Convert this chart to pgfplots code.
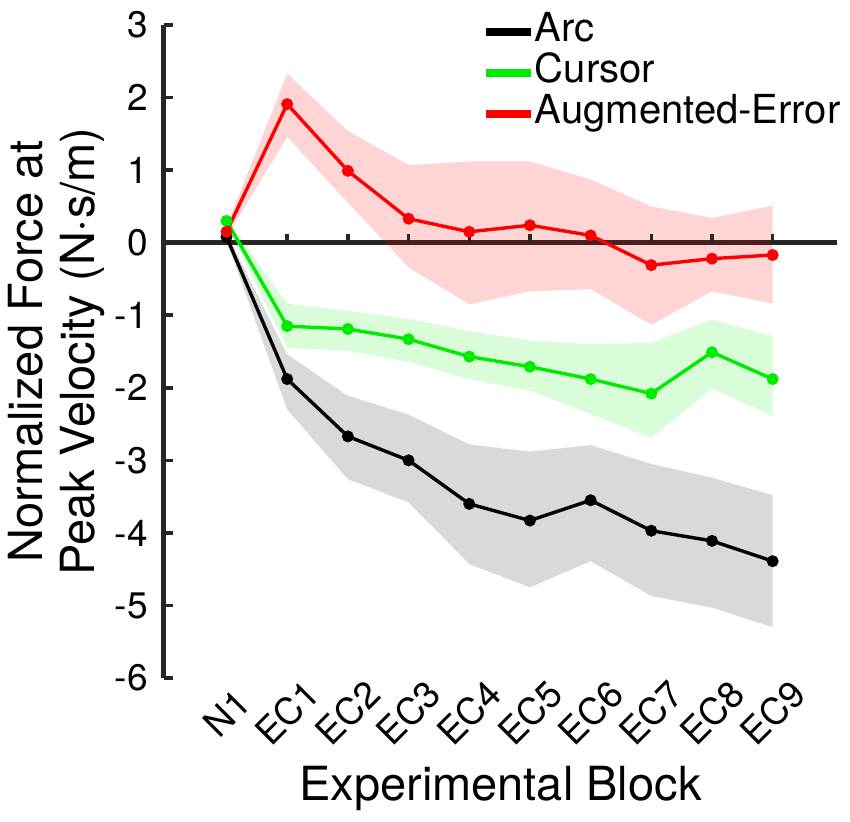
\documentclass[border=0pt]{standalone}
\usepackage{fontspec}
\setmainfont{TeX Gyre Heros}
\usepackage{pgfplots}
\pgfplotsset{compat=1.18}
\definecolor{axgray}{RGB}{38,38,38}
\definecolor{cgreen}{RGB}{0,235,0}
\definecolor{cred}{RGB}{255,0,0}
\pgfdeclareplotmark{uptick}{\pgfpathmoveto{\pgfqpoint{0pt}{0pt}}\pgfpathlineto{\pgfqpoint{0pt}{4.4pt}}\pgfusepathqstroke}
\begin{document}
\begin{tikzpicture}
\begin{axis}[
  scale only axis, width=336.5pt, height=326.5pt,
  xmin=-1.03, xmax=10.06, ymin=-6, ymax=3,
  axis y line*=left, axis x line*=bottom,
  x axis line style={draw=none},
  y axis line style={line width=2.5pt, color=axgray},
  xtick={0,...,9},
  xticklabels={N1,EC1,EC2,EC3,EC4,EC5,EC6,EC7,EC8,EC9},
  xtick style={draw=none},
  ytick={-6,...,3},
  yticklabels={-6,-5,-4,-3,-2,-1,0,1,2,3},
  ytick style={line width=1.8pt, color=axgray},
  tick align=inside, major tick length=4.4pt,
  tick label style={font=\fontsize{18.5}{18.5}\selectfont, text=black},
  yticklabel style={anchor=east, inner sep=0pt, xshift=-8pt},
  xticklabel style={yshift=-17.5pt, rotate=45, anchor=center, inner sep=0pt},
  xlabel={Experimental Block},
  xlabel style={at={(rel axis cs:0.5,0)}, anchor=base, yshift=-61pt, font=\fontsize{23.5}{26}\selectfont, inner sep=0pt},
  ylabel={Normalized Force at\\Peak Velocity (N{\char"00B7}s/m)},
  ylabel style={at={(rel axis cs:-0.0881,0.5)}, anchor=south, align=center, font=\fontsize{23.5}{26}\selectfont, inner sep=0pt},
  legend style={at={(rel axis cs:0.472,1.0173)}, anchor=north west, draw=none, fill=none, inner sep=0pt, outer sep=0pt, row sep=2.5pt, font=\fontsize{20}{20}\selectfont, nodes={inner sep=0pt, text height=14pt, text depth=4pt}},
  legend cell align=left,
  legend image code/.code={\draw[line width=4.15pt] (-2pt,0pt) -- (20.5pt,0pt);},
]
\coordinate (BL) at (rel axis cs:0,0);
\coordinate (TR) at (rel axis cs:1,1);
% zero line and its ticks
\addplot[draw=axgray, line width=2.3pt, forget plot] coordinates {(-1.03,0) (10.06,0)};
\addplot[only marks, mark=uptick, mark options={draw=axgray, line width=1.7pt}, forget plot] coordinates {(0,0) (1,0) (2,0) (3,0) (4,0) (5,0) (6,0) (7,0) (8,0) (9,0)};
% bands: upper 0..9 then lower 9..0
\addplot[fill=cred, fill opacity=0.17, draw=none, forget plot] coordinates {
 (0,0.22) (1,2.33) (2,1.54) (3,1.07) (4,1.12) (5,1.12) (6,0.87) (7,0.50) (8,0.34) (9,0.51)
 (9,-0.84) (8,-0.67) (7,-1.13) (6,-0.64) (5,-0.67) (4,-0.85) (3,-0.34) (2,0.55) (1,1.46) (0,0.08)};
\addplot[fill=cgreen, fill opacity=0.15, draw=none, forget plot] coordinates {
 (0,0.33) (1,-0.84) (2,-0.94) (3,-1.05) (4,-1.22) (5,-1.35) (6,-1.40) (7,-1.38) (8,-1.06) (9,-1.29)
 (9,-2.39) (8,-2.01) (7,-2.69) (6,-2.36) (5,-2.04) (4,-1.88) (3,-1.64) (2,-1.49) (1,-1.45) (0,0.27)};
\addplot[fill=black, fill opacity=0.15, draw=none, forget plot] coordinates {
 (0,0.13) (1,-1.54) (2,-2.11) (3,-2.37) (4,-2.78) (5,-2.88) (6,-2.79) (7,-3.05) (8,-3.24) (9,-3.48)
 (9,-5.30) (8,-5.03) (7,-4.87) (6,-4.39) (5,-4.75) (4,-4.43) (3,-3.58) (2,-3.26) (1,-2.30) (0,0.03)};
% means
\addplot[black, line width=1.7pt, mark=*, mark size=2.1pt] coordinates {
 (0,0.08) (1,-1.88) (2,-2.67) (3,-3.00) (4,-3.60) (5,-3.83) (6,-3.55) (7,-3.97) (8,-4.11) (9,-4.39)};
\addlegendentry{Arc}
\addplot[cgreen, line width=1.7pt, mark=*, mark size=2.1pt] coordinates {
 (0,0.30) (1,-1.15) (2,-1.19) (3,-1.33) (4,-1.57) (5,-1.71) (6,-1.88) (7,-2.08) (8,-1.51) (9,-1.88)};
\addlegendentry{Cursor}
\addplot[cred, line width=1.7pt, mark=*, mark size=2.1pt] coordinates {
 (0,0.15) (1,1.91) (2,0.99) (3,0.33) (4,0.15) (5,0.24) (6,0.10) (7,-0.31) (8,-0.22) (9,-0.17)};
\addlegendentry{Augmented-Error}
\end{axis}
\pgfresetboundingbox
\path[use as bounding box] ([xshift=-82pt,yshift=-71.5pt]BL) rectangle ([xshift=6.5pt,yshift=12.5pt]TR);
\end{tikzpicture}
\end{document}
